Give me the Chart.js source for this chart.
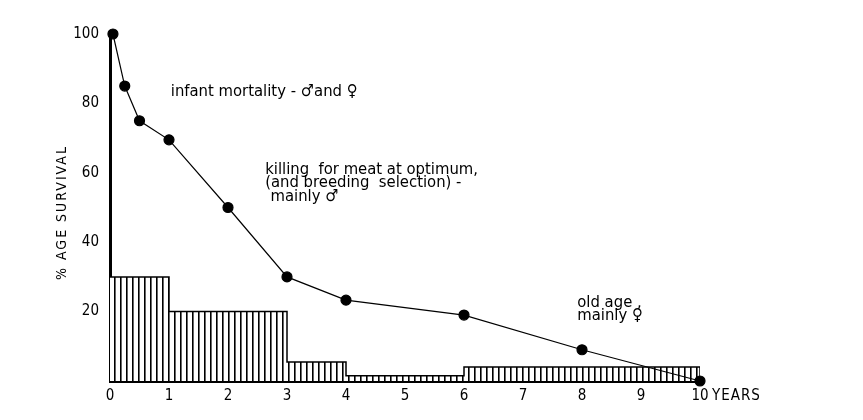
<!DOCTYPE html>
<html>
<head>
<meta charset="utf-8">
<script src="https://cdn.jsdelivr.net/npm/chart.js@4.4.1/dist/chart.umd.min.js"></script>
<style>
  html, body { margin:0; padding:0; background:#fff; }
  #wrap { width:863px; height:420px; }
</style>
</head>
<body>
<div id="wrap"><canvas id="graficoSobrevivencia" width="863" height="420"></canvas></div>
<script>
// survival curve (years, % alive)
const idades = [0.05, 0.25, 0.5, 1, 2, 3, 4, 6, 8, 10];
const sobrevivencia = [100, 85, 75, 69.5, 50, 30, 23.3, 19, 9, 0];

// mortality histogram: age class edges and height of each class
const limitesClasse = [0, 1, 3, 4, 6, 10];
const mortalidade = [30, 20, 5.5, 1.5, 4];

const ticksY = [20, 40, 60, 80, 100];

// notes written on the chart (x in years, y in %)
const notas = [
    { texto: "infant mortality - \u2642and \u2640", x: 1.03, y: 83.5 },
    { texto: "killing  for meat at optimum,", x: 2.63, y: 61 },
    { texto: "(and breeding  selection) -", x: 2.63, y: 57 },
    { texto: "mainly \u2642", x: 2.72, y: 53 },
    { texto: "old age ,", x: 7.92, y: 22.5 },
    { texto: "mainly \u2640", x: 7.92, y: 18.7 }
];

const fonte = "'DejaVu Sans Condensed', 'Liberation Sans Narrow', sans-serif";

function hachura(){
    const c = document.createElement("canvas");
    c.width = 6;
    c.height = 6;
    const g = c.getContext("2d");
    g.fillStyle = "#fff";
    g.fillRect(0, 0, 6, 6);
    g.fillStyle = "#000";
    g.fillRect(0, 0, 1.6, 6);
    return g.createPattern(c, "repeat");
}

const pontosCurva = idades.map((x, i) => ({ x: x, y: sobrevivencia[i] }));

const pontosHist = [];
mortalidade.forEach((h, i) => {
    pontosHist.push({ x: limitesClasse[i], y: h });
});
pontosHist.push({ x: limitesClasse[limitesClasse.length - 1], y: mortalidade[mortalidade.length - 1] });
pontosHist.push({ x: limitesClasse[limitesClasse.length - 1], y: 0 });

const textosPlugin = {
    id: "textos",
    afterDraw(chart){
        const ctx = chart.ctx;
        const sx = chart.scales.x;
        const sy = chart.scales.y;
        ctx.save();
        ctx.fillStyle = "#000";
        ctx.font = "16.5px " + fonte;
        ctx.textAlign = "left";
        ctx.textBaseline = "middle";
        notas.forEach(n => {
            ctx.fillText(n.texto, sx.getPixelForValue(n.x), sy.getPixelForValue(n.y));
        });

        // x axis unit after the last tick
        ctx.font = "15px " + fonte;
        ctx.letterSpacing = "1px";
        ctx.fillText("YEARS", sx.getPixelForValue(10) + 12, sy.bottom + 15);

        // y axis title
        ctx.font = "14px " + fonte;
        ctx.letterSpacing = "2px";
        ctx.translate(62, (sy.top + sy.bottom) / 2 + 5);
        ctx.rotate(-Math.PI / 2);
        ctx.textAlign = "center";
        ctx.fillText("% AGE SURVIVAL", 0, 0);
        ctx.restore();
    }
};

new Chart(document.getElementById("graficoSobrevivencia"), {
    type: "scatter",
    data: {
        datasets: [
            {
                data: pontosCurva,
                showLine: true,
                clip: false,
                borderColor: "#000",
                borderWidth: 1.2,
                pointRadius: 5,
                pointBackgroundColor: "#000",
                pointBorderColor: "#000",
                order: 0
            },
            {
                data: pontosHist,
                showLine: true,
                stepped: "before",
                fill: "origin",
                backgroundColor: hachura(),
                borderColor: "#000",
                borderWidth: 1.5,
                pointRadius: 0,
                order: 1
            }
        ]
    },
    options: {
        responsive: false,
        animation: false,
        layout: { padding: { left: 0, right: 163, top: 34, bottom: 0 } },
        plugins: {
            legend: { display: false },
            tooltip: { enabled: false }
        },
        scales: {
            x: {
                type: "linear",
                min: 0,
                max: 10,
                grid: { display: false, drawTicks: false },
                border: { display: true, color: "#000", width: 3 },
                ticks: {
                    stepSize: 1,
                    color: "#000",
                    padding: 6,
                    font: { family: fonte, size: 15 }
                },
                afterFit(scale){ scale.height = 39; }
            },
            y: {
                min: 0,
                max: 100,
                afterBuildTicks(scale){
                    scale.ticks = [0].concat(ticksY).map(v => ({ value: v }));
                },
                grid: { display: false, drawTicks: false },
                border: { display: true, color: "#000", width: 3 },
                ticks: {
                    color: "#000",
                    padding: 11,
                    font: { family: fonte, size: 15 },
                    callback: v => v === 0 ? "" : v
                },
                afterFit(scale){ scale.width = 110; }
            }
        }
    },
    plugins: [textosPlugin]
});
</script>
</body>
</html>
